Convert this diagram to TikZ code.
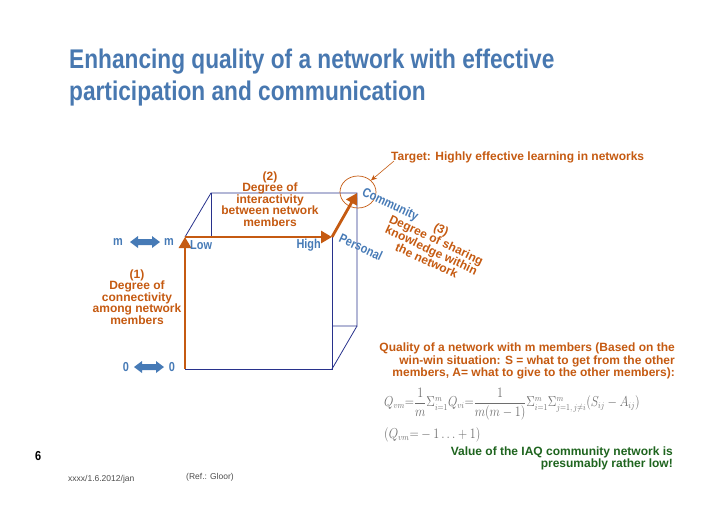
\documentclass[tikz,border=0pt]{standalone}
\usepackage{fontspec}
\usepackage{amsmath}
\setmainfont{Liberation Sans}
\newfontfamily\nar[FakeStretch=0.84]{Liberation Sans}
\newfontfamily\plain{Liberation Sans}
\usetikzlibrary{shapes.geometric,arrows.meta}
\definecolor{orng}{RGB}{197,90,17}
\definecolor{blu}{RGB}{70,122,182}
\definecolor{ttl}{RGB}{72,120,176}
\definecolor{navy}{RGB}{40,50,140}
\definecolor{grn}{RGB}{30,100,30}
\definecolor{gry}{RGB}{110,110,110}
\tikzset{
  cube/.style={draw=navy, line width=0.8pt},
  oarrow/.style={draw=orng, line width=2.8pt, -{Triangle[length=11pt,width=12pt]}},
  olabel/.style={font=\plain\bfseries\fontsize{12}{11.5}\selectfont, text=orng, align=center, inner sep=0pt},
  blabel/.style={font=\nar\bfseries\fontsize{13}{12}\selectfont, text=blu, inner sep=0pt},
  dbl/.style={fill=blu, shift={(#1)}, insert path={(-15,0) -- (-7,-6) -- (-7,-3) -- (7,-3) -- (7,-6) -- (15,0) -- (7,6) -- (7,3) -- (-7,3) -- (-7,6) -- cycle}}
}
\begin{document}
\begin{tikzpicture}[x=1pt,y=-1pt]
\useasboundingbox (0,0) rectangle (728,515);
% title
\node[anchor=north west, inner sep=0pt, text=ttl, align=left, font=\nar\bfseries\fontsize{27}{32}\selectfont] (title) at (69,49) {Enhancing quality of a network with effective\\participation and communication};
% cube coordinates
\coordinate (A) at (185,369);
\coordinate (B) at (185,237);
\coordinate (C) at (332,237);
\coordinate (D) at (332,369);
\coordinate (E) at (211,193);
\coordinate (F) at (357,193);
\coordinate (G) at (357,326);
\coordinate (H) at (211,237);
\coordinate (I) at (332,326);
\draw[cube] (A) -- (D) -- (C);
\draw[cube] (B) -- (E) -- (F) -- (G) -- (I);
\draw[cube] (D) -- (G);
\draw[cube] (E) -- (H);
\draw[oarrow] (A) -- (B);
\draw[oarrow] (B) -- (C);
\draw[oarrow] (C) -- (F);
\node[draw=orng, line width=0.7pt, ellipse, minimum width=36pt, minimum height=32pt, inner sep=0pt] (circ) at (358,192) {};
% target
\node[olabel, anchor=west] (target) at (391,157) {Target: Highly effective learning in networks};
\coordinate (t0) at (394,161);
\draw[orng, line width=0.6pt, -{Stealth[length=6pt,width=5pt]}] (t0) -- (circ.north east);
% labels
\node[olabel] (lab2) at (270,199) {(2)\\Degree of\\interactivity\\between network\\members};
\node[olabel] (lab1) at (137,297) {(1)\\Degree of\\connectivity\\among network\\members};
\node[olabel, rotate=-25] (lab3) at (434,245) {(3)\\Degree of sharing\\knowledge within\\the network};
\node[blabel, rotate=-25] (comm) at (390,205) {Community};
\node[blabel, rotate=-25] (pers) at (361,247) {Personal};
\node[blabel, anchor=west] (low) at (190,245) {Low};
\node[blabel, anchor=east] (high) at (321,245) {High};
% m <-> m
\node[blabel] (m1) at (118,242) {m};
\coordinate (dm) at (145,242);
\fill[dbl=dm];
\node[blabel] (m2) at (169,242) {m};
\node[blabel] (z1) at (126,367) {0};
\coordinate (dz) at (149,367);
\fill[dbl=dz];
\node[blabel] (z2) at (172,367) {0};
% quality
\node[olabel, anchor=north east, align=right, font=\plain\bfseries\fontsize{12}{12.5}\selectfont] (qual) at (675,343) {Quality of a network with m members (Based on the\\win-win situation: S = what to get from the other\\members, A= what to give to the other members):};
\node[anchor=west, inner sep=0pt, text=gry] (form) at (384,404) {\scalebox{0.84}[1]{\fontsize{13.5}{15}\selectfont$Q_{vm}{=}\dfrac{1}{m}\Sigma^{m}_{i=1}Q_{vi}{=}\dfrac{1}{m(m-1)}\Sigma^{m}_{i=1}\Sigma^{m}_{j=1,\,j\neq i}(S_{ij}-A_{ij})$}};
\node[anchor=west, inner sep=0pt, text=gry] (range) at (384,435) {\scalebox{0.84}[1]{\fontsize{13.5}{15}\selectfont$(Q_{vm}{=}-1\ldots+1)$}};
\node[anchor=north east, align=right, inner sep=0pt, text=grn, font=\plain\bfseries\fontsize{12}{11.5}\selectfont] (value) at (673,447) {Value of the IAQ community network is\\presumably rather low!};
% footer
\node[anchor=west, inner sep=0pt, font=\nar\bfseries\fontsize{13}{13}\selectfont] (pg) at (35,456) {6};
\node[anchor=west, inner sep=0pt, text=gry!70!black, font=\plain\fontsize{8.5}{8.5}\selectfont] (foot) at (68,479) {xxxx/1.6.2012/jan};
\node[anchor=west, inner sep=0pt, text=gry!70!black, font=\plain\fontsize{8.5}{8.5}\selectfont] (ref) at (186,477) {(Ref.: Gloor)};
\end{tikzpicture}
\end{document}
